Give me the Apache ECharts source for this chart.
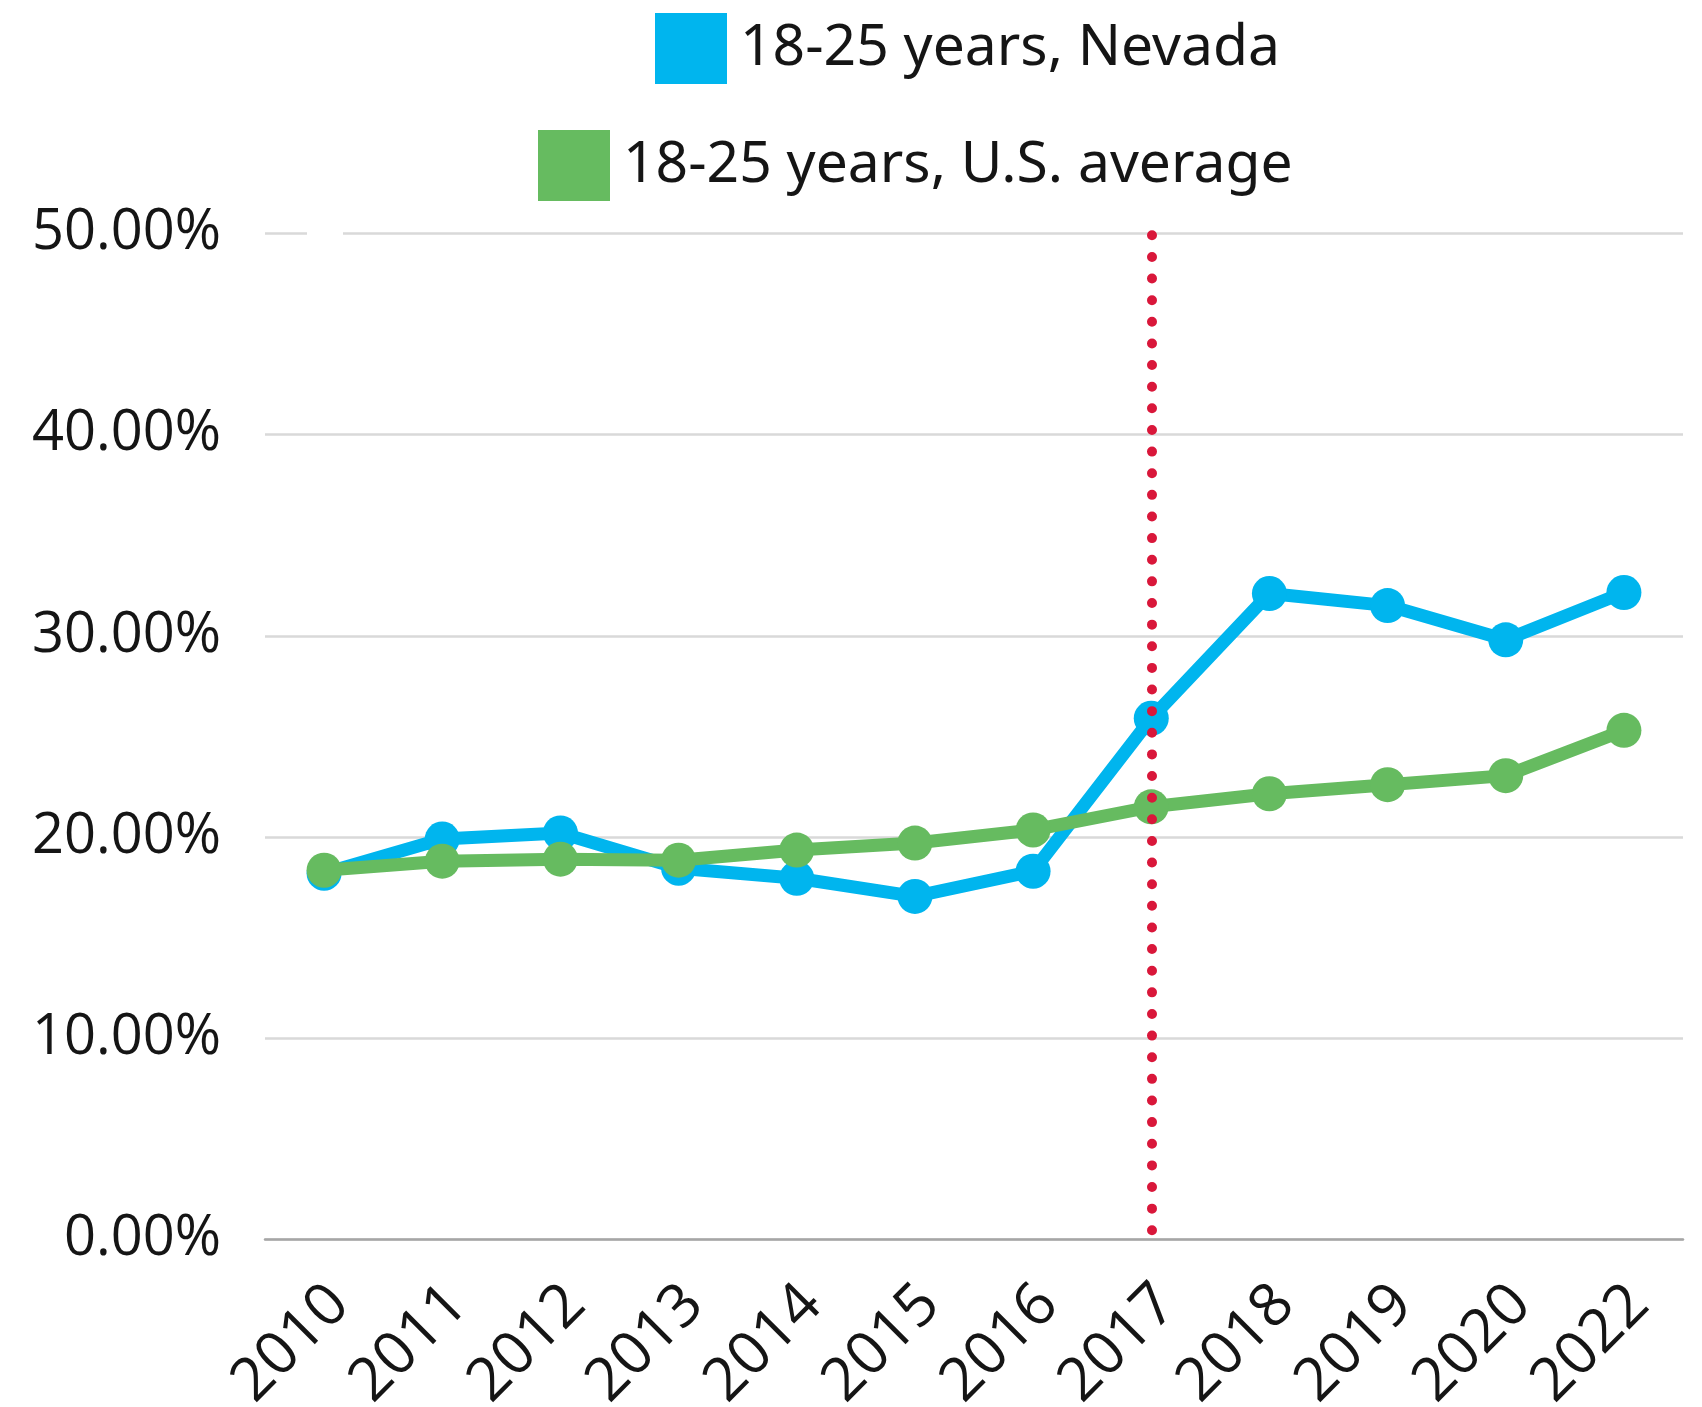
<!DOCTYPE html>
<html>
<head>
<meta charset="utf-8">
<script src="https://cdn.jsdelivr.net/npm/echarts@6/dist/echarts.min.js"></script>
<style>
html,body{margin:0;padding:0;background:#ffffff;}
#c{width:1702px;height:1407px;}
</style>
</head>
<body>
<div id="c"></div>
<script>
// ---- data ----
const years = ['2010','2011','2012','2013','2014','2015','2016','2017','2018','2019','2020','2022'];
const nevada = [18.2, 19.9, 20.2, 18.45, 17.95, 17.05, 18.3, 25.9, 32.1, 31.5, 29.8, 32.15];
const usAverage = [18.35, 18.8, 18.9, 18.85, 19.35, 19.7, 20.35, 21.5, 22.15, 22.6, 23.05, 25.3];
const seriesNames = ['18-25 years, Nevada', '18-25 years, U.S. average'];
const yMin = 0, yMax = 50, yStep = 10;
const markerYear = '2017';

// ---- chart ----
const chart = echarts.init(document.getElementById('c'), null, {renderer: 'canvas', devicePixelRatio: 1});
const BLUE = '#00b5ee', GREEN = '#66bb60', RED = '#d9173a';
const legendText = {fontFamily: 'Noto Sans', fontSize: 57, color: '#151515', padding: [0, 0, 14, 8]};
const markerIdx = years.indexOf(markerYear);

const option = {
  animation: false,
  backgroundColor: '#ffffff',
  legend: [
    {data: [seriesNames[0]], left: 655, top: 13, padding: 0, itemWidth: 72, itemHeight: 71,
     icon: 'rect', selectedMode: false, textStyle: legendText},
    {data: [seriesNames[1]], left: 538, top: 130, padding: 0, itemWidth: 72, itemHeight: 71,
     icon: 'rect', selectedMode: false, textStyle: legendText}
  ],
  grid: {left: 265, right: 19, top: 233.3, bottom: 167.5, containLabel: false, outerBoundsMode: 'none'},
  xAxis: {
    type: 'category', data: years, boundaryGap: true,
    axisTick: {show: false},
    axisLine: {lineStyle: {color: '#a6a6a6', width: 2.5}},
    axisLabel: {rotate: 45, interval: 0, margin: 40, fontFamily: 'Open Sans', fontSize: 60,
                color: '#151515', verticalAlign: 'top', lineHeight: 44},
    splitLine: {show: false}
  },
  yAxis: {
    type: 'value', min: yMin, max: yMax, interval: yStep,
    axisLine: {show: false}, axisTick: {show: false},
    axisLabel: {margin: 44, fontFamily: 'Open Sans', fontSize: 56, color: '#151515',
                formatter: v => v.toFixed(2) + '%'},
    splitLine: {lineStyle: {color: '#d9d9d9', width: 2.5}}
  },
  graphic: [
    {type: 'rect', shape: {x: 307, y: 228, width: 36, height: 10}, style: {fill: '#ffffff'}, z: 100}
  ],
  series: [
    {name: seriesNames[0], type: 'line', data: nevada, z: 2,
     symbol: 'circle', symbolSize: 35, showAllSymbol: true,
     lineStyle: {color: BLUE, width: 13}, itemStyle: {color: BLUE}},
    {name: seriesNames[1], type: 'line', data: usAverage, z: 3,
     symbol: 'circle', symbolSize: 35, showAllSymbol: true,
     lineStyle: {color: GREEN, width: 13}, itemStyle: {color: GREEN}},
    {name: 'marker', type: 'line', data: [], z: 6, silent: true,
     markLine: {
       silent: true, symbol: ['none', 'none'], animation: false,
       label: {show: false},
       lineStyle: {color: RED, width: 10, type: [0, 21.63], dashOffset: 12.4, cap: 'round'},
       data: [[{coord: [markerIdx, yMin]}, {coord: [markerIdx, yMax]}]]
     }}
  ]
};
chart.setOption(option);
</script>
</body>
</html>
